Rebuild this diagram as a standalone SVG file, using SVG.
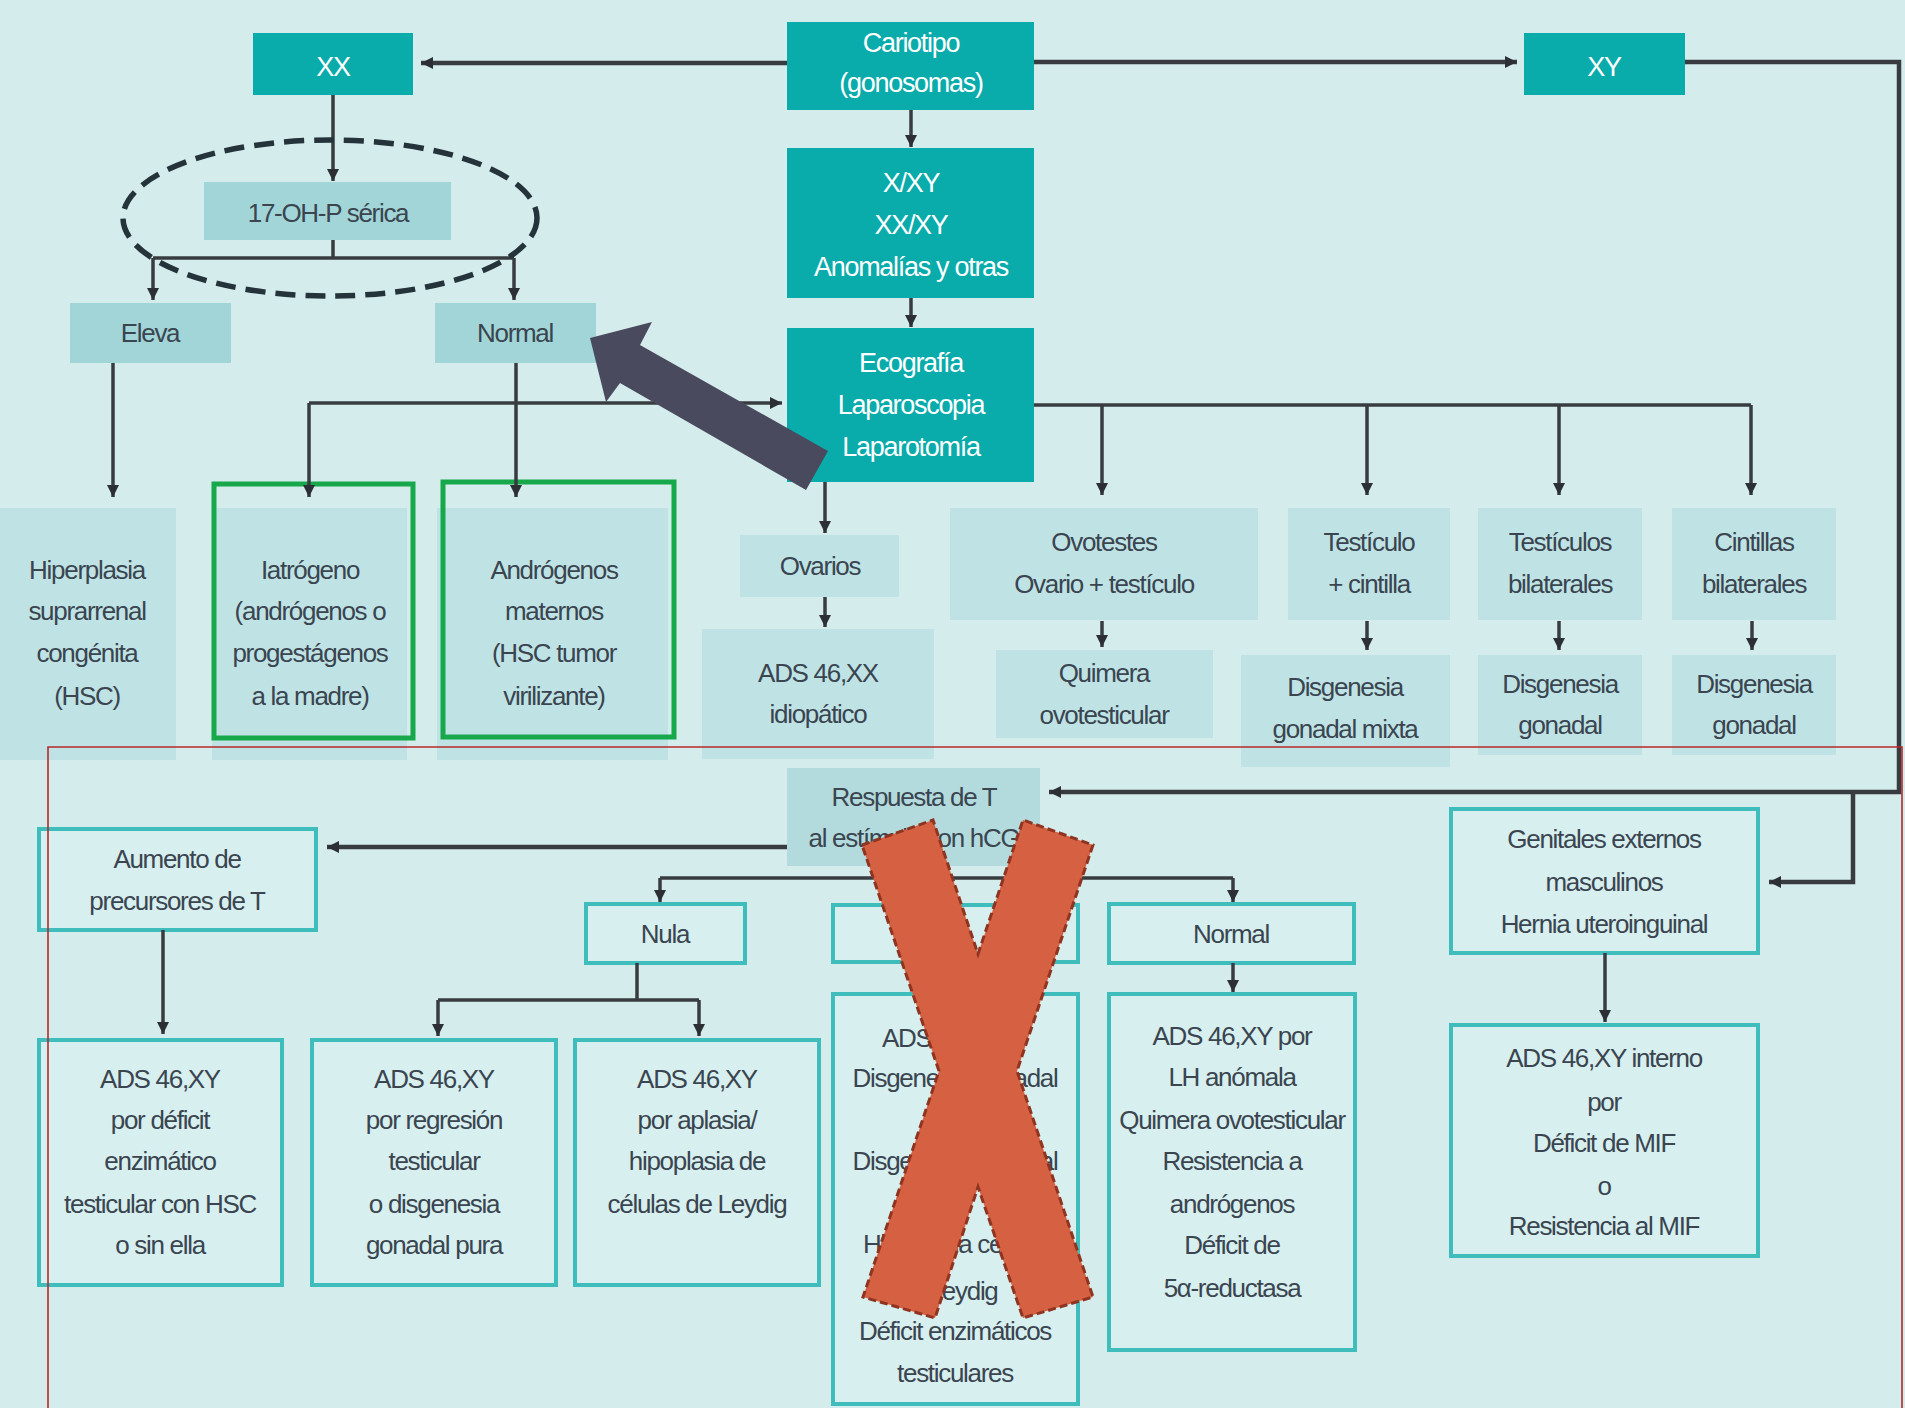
<svg xmlns="http://www.w3.org/2000/svg" width="1905" height="1408" viewBox="0 0 1905 1408">
<defs>
<style>
.teal{fill:#0aabab}
.lt1{fill:#a2d5d7}
.lt2{fill:#bfe3e5}
.lt3{fill:#b3dbdd}
.ob{fill:#d7efef;stroke:#3fbdbd;stroke-width:4}
.gr{fill:none;stroke:#17a84b;stroke-width:5}
text{font-family:"Liberation Sans",Arial,sans-serif;font-size:26px;letter-spacing:-1.3px;fill:#3a4550;text-anchor:middle}
.w{fill:#ffffff;font-size:27px}
.st{text-anchor:start}
.c{fill:none;stroke:#383c40;stroke-width:3.5}
.ck{fill:none;stroke:#383c40;stroke-width:4.5}
</style>
<marker id="ah" viewBox="0 0 10 10" refX="10" refY="5" markerWidth="13" markerHeight="12" markerUnits="userSpaceOnUse" orient="auto">
<path d="M0,0 L10,5 L0,10 z" fill="#2c3034"/>
</marker>
</defs>
<rect x="0" y="0" width="1905" height="1408" fill="#d4ecec"/>

<g id="n-xx"><rect class="teal" x="253" y="33" width="160" height="62"/><text class="w" x="333" y="76">XX</text></g>
<g id="n-cariotipo"><rect class="teal" x="787" y="22" width="247" height="88"/><text class="w" x="911" y="52">Cariotipo</text><text class="w" x="911" y="92">(gonosomas)</text></g>
<g id="n-xy"><rect class="teal" x="1524" y="33" width="161" height="62"/><text class="w" x="1604" y="76">XY</text></g>
<g id="n-mosaico"><rect class="teal" x="787" y="148" width="247" height="150"/><text class="w" x="911" y="192">X/XY</text><text class="w" x="911" y="234">XX/XY</text><text class="w" x="911" y="276">Anomalías y otras</text></g>
<g id="n-eco"><rect class="teal" x="787" y="328" width="247" height="154"/><text class="w" x="911" y="372">Ecografía</text><text class="w" x="911" y="414">Laparoscopia</text><text class="w" x="911" y="456">Laparotomía</text></g>

<g id="n-17ohp"><rect class="lt1" x="204" y="182" width="247" height="58"/><text x="328" y="222">17-OH-P sérica</text></g>
<g id="n-eleva"><rect class="lt1" x="70" y="303" width="161" height="60"/><text x="150" y="342">Eleva</text></g>
<g id="n-normal1"><rect class="lt1" x="435" y="303" width="161" height="60"/><text x="515" y="342">Normal</text></g>

<g id="n-hsc"><rect class="lt2" x="0" y="508" width="176" height="252"/><text x="87" y="579">Hiperplasia</text><text x="87" y="620">suprarrenal</text><text x="87" y="662">congénita</text><text x="87" y="705">(HSC)</text></g>
<g id="n-iatrogeno"><rect class="lt2" x="212" y="508" width="195" height="252"/><rect class="gr" x="214" y="484" width="199" height="254"/><text x="310" y="579">Iatrógeno</text><text x="310" y="620">(andrógenos o</text><text x="310" y="662">progestágenos</text><text x="310" y="705">a la madre)</text></g>
<g id="n-maternos"><rect class="lt2" x="437" y="508" width="231" height="252"/><rect class="gr" x="443" y="482" width="231" height="255"/><text x="554" y="579">Andrógenos</text><text x="554" y="620">maternos</text><text x="554" y="662">(HSC tumor</text><text x="554" y="705">virilizante)</text></g>
<g id="n-ovarios"><rect class="lt2" x="740" y="535" width="159" height="62"/><text x="820" y="575">Ovarios</text></g>
<g id="n-ads46xx"><rect class="lt2" x="702" y="629" width="232" height="130"/><text x="818" y="682">ADS 46,XX</text><text x="818" y="723">idiopático</text></g>
<g id="n-ovotestes"><rect class="lt2" x="950" y="508" width="308" height="112"/><text x="1104" y="551">Ovotestes</text><text x="1104" y="593">Ovario + testículo</text></g>
<g id="n-quimera"><rect class="lt2" x="996" y="650" width="217" height="88"/><text x="1104" y="682">Quimera</text><text x="1104" y="724">ovotesticular</text></g>
<g id="n-testcint"><rect class="lt2" x="1288" y="508" width="162" height="112"/><text x="1369" y="551">Testículo</text><text x="1369" y="593">+ cintilla</text></g>
<g id="n-dgmixta"><rect class="lt2" x="1241" y="655" width="209" height="112"/><text x="1345" y="696">Disgenesia</text><text x="1345" y="738">gonadal mixta</text></g>
<g id="n-testbil"><rect class="lt2" x="1478" y="508" width="164" height="112"/><text x="1560" y="551">Testículos</text><text x="1560" y="593">bilaterales</text></g>
<g id="n-dg1"><rect class="lt2" x="1478" y="655" width="164" height="100"/><text x="1560" y="693">Disgenesia</text><text x="1560" y="734">gonadal</text></g>
<g id="n-cintbil"><rect class="lt2" x="1672" y="508" width="164" height="112"/><text x="1754" y="551">Cintillas</text><text x="1754" y="593">bilaterales</text></g>
<g id="n-dg2"><rect class="lt2" x="1672" y="655" width="164" height="100"/><text x="1754" y="693">Disgenesia</text><text x="1754" y="734">gonadal</text></g>

<g id="n-respuesta"><rect class="lt3" x="787" y="768" width="253" height="98"/><text x="914" y="806">Respuesta de T</text><text x="914" y="847">al estímulo con hCG</text></g>
<g id="n-aumento"><rect class="ob" x="39" y="829" width="277" height="101"/><text x="177" y="868">Aumento de</text><text x="177" y="910">precursores de T</text></g>
<g id="n-nula"><rect class="ob" x="586" y="904" width="159" height="59"/><text x="665" y="943">Nula</text></g>
<g id="n-middle-label"><rect class="ob" x="833" y="905" width="245" height="57"/></g>
<g id="n-normal2"><rect class="ob" x="1109" y="904" width="245" height="59"/><text x="1231" y="943">Normal</text></g>
<g id="n-genitales"><rect class="ob" x="1451" y="809" width="307" height="144"/><text x="1604" y="848">Genitales externos</text><text x="1604" y="891">masculinos</text><text x="1604" y="933">Hernia uteroinguinal</text></g>
<g id="n-deficit"><rect class="ob" x="39" y="1040" width="243" height="245"/><text x="160" y="1088">ADS 46,XY</text><text x="160" y="1129">por déficit</text><text x="160" y="1170">enzimático</text><text x="160" y="1213">testicular con HSC</text><text x="160" y="1254">o sin ella</text></g>
<g id="n-regresion"><rect class="ob" x="312" y="1040" width="244" height="245"/><text x="434" y="1088">ADS 46,XY</text><text x="434" y="1129">por regresión</text><text x="434" y="1170">testicular</text><text x="434" y="1213">o disgenesia</text><text x="434" y="1254">gonadal pura</text></g>
<g id="n-aplasia"><rect class="ob" x="575" y="1040" width="244" height="245"/><text x="697" y="1088">ADS 46,XY</text><text x="697" y="1129">por aplasia/</text><text x="697" y="1170">hipoplasia de</text><text x="697" y="1213">células de Leydig</text></g>
<g id="n-parcial"><rect class="ob" x="833" y="994" width="245" height="410"/><text class="st" x="882" y="1047">ADS 46,XY</text><text x="955" y="1087">Disgenesia gonadal</text><text x="955" y="1170">Disgenesia gonadal</text><text class="st" x="863" y="1253">Hipoplasia células</text><text x="947" y="1300">de Leydig</text><text x="955" y="1340">Déficit enzimáticos</text><text x="955" y="1382">testiculares</text></g>
<g id="n-lh"><rect class="ob" x="1109" y="994" width="246" height="356"/><text x="1232" y="1045">ADS 46,XY por</text><text x="1232" y="1086">LH anómala</text><text x="1232" y="1129">Quimera ovotesticular</text><text x="1232" y="1170">Resistencia a</text><text x="1232" y="1213">andrógenos</text><text x="1232" y="1254">Déficit de</text><text x="1232" y="1297">5α-reductasa</text></g>
<g id="n-interno"><rect class="ob" x="1451" y="1025" width="307" height="231"/><text x="1604" y="1067">ADS 46,XY interno</text><text x="1604" y="1111">por</text><text x="1604" y="1152">Déficit de MIF</text><text x="1604" y="1195">o</text><text x="1604" y="1235">Resistencia al MIF</text></g>

<g id="connectors">
<path class="ck" d="M787,63 H421" marker-end="url(#ah)"/>
<path class="ck" d="M1034,62 H1517" marker-end="url(#ah)"/>
<path class="ck" d="M1685,62 H1899 V792 H1049" marker-end="url(#ah)"/>
<path class="ck" d="M1853,792 V882 H1769" marker-end="url(#ah)"/>
<path class="c" d="M911,110 V147" marker-end="url(#ah)"/>
<path class="c" d="M911,298 V327" marker-end="url(#ah)"/>
<path class="c" d="M333,95 V181" marker-end="url(#ah)"/>
<path class="c" d="M333,240 V258"/>
<path class="c" d="M153,258 H514"/>
<path class="c" d="M153,258 V300" marker-end="url(#ah)"/>
<path class="c" d="M514,258 V300" marker-end="url(#ah)"/>
<path class="c" d="M113,363 V497" marker-end="url(#ah)"/>
<path class="c" d="M516,363 V497" marker-end="url(#ah)"/>
<path class="c" d="M309,403 V497" marker-end="url(#ah)"/>
<path class="c" d="M309,403 H782" marker-end="url(#ah)"/>
<path class="c" d="M1034,405 H1751"/>
<path class="c" d="M1102,405 V495" marker-end="url(#ah)"/>
<path class="c" d="M1367,405 V495" marker-end="url(#ah)"/>
<path class="c" d="M1559,405 V495" marker-end="url(#ah)"/>
<path class="c" d="M1751,405 V495" marker-end="url(#ah)"/>
<path class="c" d="M825,482 V533" marker-end="url(#ah)"/>
<path class="c" d="M825,597 V627" marker-end="url(#ah)"/>
<path class="c" d="M1102,621 V647" marker-end="url(#ah)"/>
<path class="c" d="M1367,621 V650" marker-end="url(#ah)"/>
<path class="c" d="M1559,621 V650" marker-end="url(#ah)"/>
<path class="c" d="M1752,621 V650" marker-end="url(#ah)"/>
<path class="ck" d="M787,847 H327" marker-end="url(#ah)"/>
<path class="c" d="M660,878 H1233"/>
<path class="c" d="M660,878 V902" marker-end="url(#ah)"/>
<path class="c" d="M1233,878 V902" marker-end="url(#ah)"/>
<path class="c" d="M163,930 V1034" marker-end="url(#ah)"/>
<path class="c" d="M637,963 V1000"/>
<path class="c" d="M438,1000 H699"/>
<path class="c" d="M438,1000 V1036" marker-end="url(#ah)"/>
<path class="c" d="M699,1000 V1036" marker-end="url(#ah)"/>
<path class="c" d="M1233,963 V992" marker-end="url(#ah)"/>
<path class="c" d="M1605,953 V1022" marker-end="url(#ah)"/>
</g>

<ellipse id="ellipse-17ohp" cx="330" cy="218" rx="207" ry="78" fill="none" stroke="#25343a" stroke-width="5.5" stroke-dasharray="20 10"/>
<polygon id="big-arrow" points="590,338 652,322 640,345 828,451 806,490 620,383 606,402" fill="#4a4a5e"/>
<path id="red-frame" d="M48,1410 V747 H1902 V1410" fill="none" stroke="#b52a2a" stroke-width="1.6"/>
<polygon id="cross" points="862,845 933,820 978,954 1023,820 1093,845 1017,1071 1093,1297 1023,1318 978,1187 935,1318 863,1297 939,1071" fill="#d66042" stroke="#8e3420" stroke-width="3" stroke-dasharray="8 4"/>
</svg>
